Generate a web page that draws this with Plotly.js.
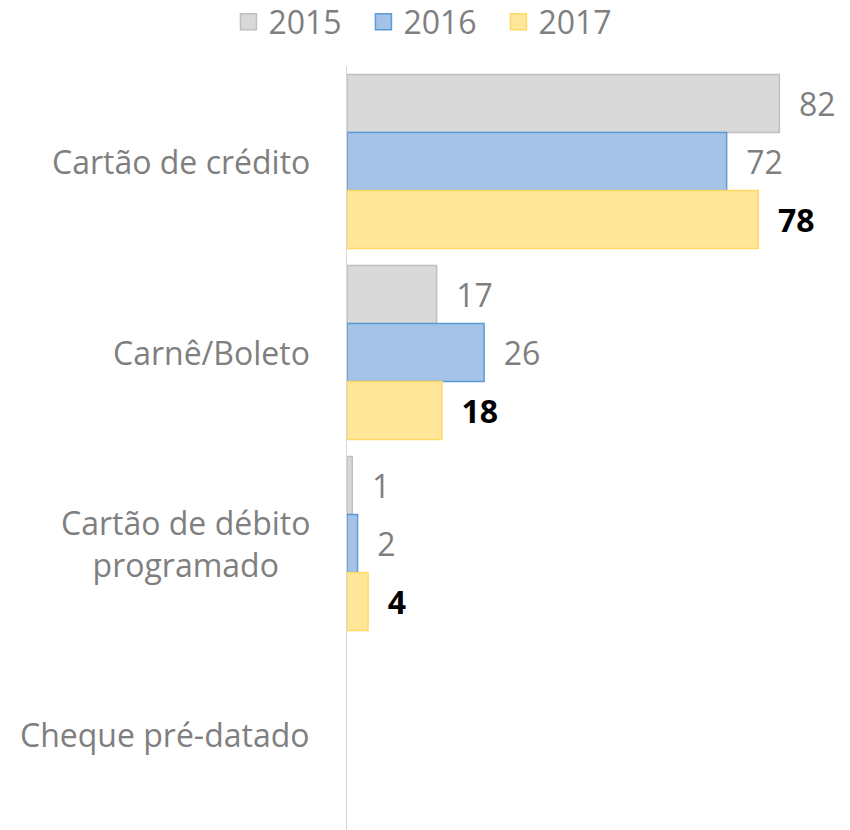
<!DOCTYPE html>
<html><head><meta charset="utf-8">
<script src="https://cdn.plot.ly/plotly-3.0.1.min.js"></script>
<style>html,body{margin:0;padding:0;background:#fff}</style>
</head><body>
<div id="chart" style="width:850px;height:830px"></div>
<script>
const categories = ["Cartão de crédito", "Carnê/Boleto", "Cartão de débito<br>programado", "Cheque pré-datado"];
const series2015 = [82, 17, 1, null];
const series2016 = [72, 26, 2, null];
const series2017 = [78, 18, 4, null];
const seriesNames = ["2015", "2016", "2017"];

const FONT = "Open Sans, sans-serif";
const fills = ["#d9d9d9", "#a5c2e7", "#ffe699"];
const lines = ["#bfbfbf", "#5b9bd5", "#ffd966"];
const labelFonts = [
  {family: FONT, size: 32, color: "#7f7f7f"},
  {family: FONT, size: 32, color: "#7f7f7f"},
  {family: FONT, size: 32, color: "#000000", weight: "bold"}
];
const allSeries = [series2015, series2016, series2017];

const traces = allSeries.map((vals, i) => ({
  type: "bar",
  orientation: "h",
  name: seriesNames[i],
  y: categories,
  x: vals,
  text: vals.map(v => v == null ? "" : String(v)),
  texttemplate: "  %{text}",
  textposition: "outside",
  cliponaxis: false,
  textfont: labelFonts[i],
  marker: {color: fills[i], line: {color: lines[i], width: 1.5}},
  showlegend: false,
  hoverinfo: "skip"
}));

// legend-only entries with larger square swatches
seriesNames.forEach((n, i) => {
  traces.push({
    type: "scatter", mode: "markers", name: n,
    x: [null], y: [null],
    marker: {symbol: "square", size: 16, color: fills[i], line: {color: lines[i], width: 1.5}},
    showlegend: true, hoverinfo: "skip"
  });
});

const annotations = categories.map(c => ({
  xref: "paper", yref: "y", x: 0, y: c,
  xanchor: "right", yanchor: "middle", xshift: -35,
  text: c, showarrow: false, align: "center",
  font: {family: FONT, size: 32, color: "#7f7f7f"}
}));

const layout = {
  width: 850, height: 830,
  margin: {l: 347, r: 0, t: 66, b: 0},
  paper_bgcolor: "#fff", plot_bgcolor: "#fff",
  barmode: "group", bargap: 0.09, bargroupgap: 0,
  font: {family: FONT, color: "#7f7f7f"},
  xaxis: {range: [0, 95.4], visible: false, showgrid: false, zeroline: false, fixedrange: true},
  yaxis: {autorange: "reversed", showticklabels: false, ticks: "", showgrid: false, zeroline: false,
          showline: true, linecolor: "#d9d9d9", linewidth: 1.5, type: "category"},
  showlegend: true,
  legend: {orientation: "h", xref: "container", yref: "container", x: 0.507, xanchor: "center",
           y: 0.9735, yanchor: "middle", font: {family: FONT, size: 32, color: "#7f7f7f"},
           itemsizing: "trace", itemwidth: 30, tracegroupgap: 0, entrywidth: 90, entrywidthmode: "pixels"},
  annotations: annotations
};

Plotly.newPlot("chart", traces, layout, {displayModeBar: false, staticPlot: true});
</script>
</body></html>
